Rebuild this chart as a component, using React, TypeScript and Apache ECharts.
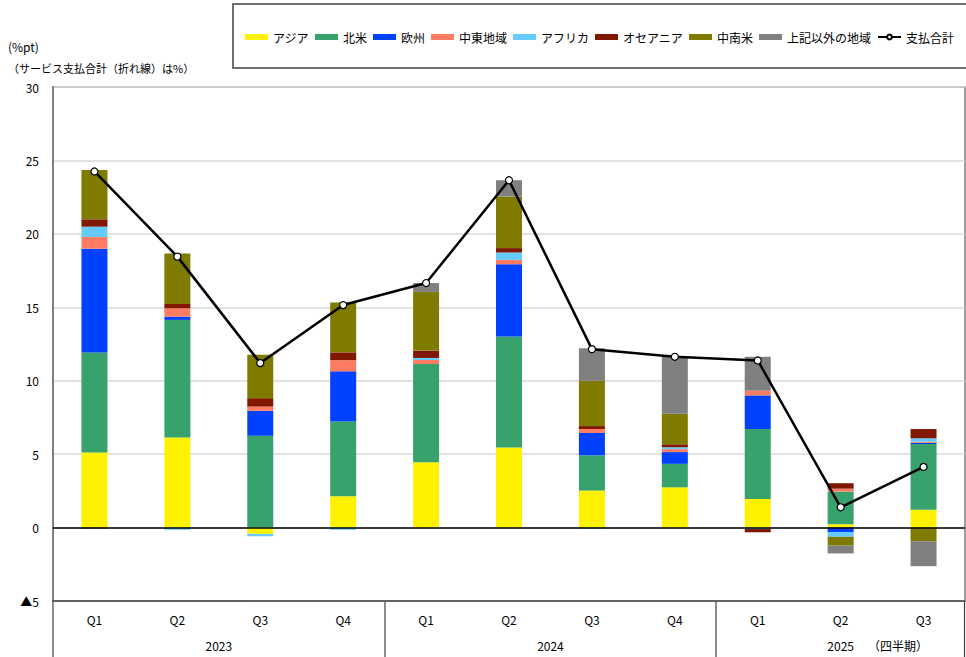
import React, { useEffect, useRef } from "react";
import * as echarts from "echarts";

const categories = ["Q1", "Q2", "Q3", "Q4", "Q1", "Q2", "Q3", "Q4", "Q1", "Q2", "Q3"];
const years = ["2023", "2024", "2025"];
const yearSpans = [4, 4, 3];

const asia = [5.12, 6.14, -0.43, 2.13, 4.44, 5.46, 2.52, 2.74, 1.95, 0.23, 1.22];
const northAmerica = [6.8, 8.0, 6.25, 5.1, 6.7, 7.55, 2.4, 1.6, 4.76, 2.22, 4.47];
const europe = [7.07, 0.22, 1.7, 3.41, 0, 4.92, 1.52, 0.8, 2.29, -0.3, 0.08];
const middleEast = [0.8, 0.57, 0.29, 0.76, 0.27, 0.3, 0.27, 0.2, 0.32, 0.2, 0.08];
const africa = [0.7, -0.15, -0.16, -0.15, 0.14, 0.5, -0.08, 0.13, -0.1, -0.33, 0.23];
const oceania = [0.5, 0.3, 0.57, 0.53, 0.5, 0.3, 0.2, 0.2, -0.22, 0.37, 0.63];
const latinAmerica = [3.35, 3.44, 2.95, 3.4, 4.0, 3.52, 3.08, 2.08, 0, -0.6, -0.93];
const others = [-0.08, 0, 0, 0, 0.6, 1.1, 2.22, 3.9, 2.31, -0.53, -1.7];
const total = [24.25, 18.45, 11.2, 15.15, 16.65, 23.65, 12.15, 11.63, 11.38, 1.38, 4.13];

const barSeriesDefs = [
  { name: "アジア", data: asia, color: "#FFF200" },
  { name: "北米", data: northAmerica, color: "#37A26C" },
  { name: "欧州", data: europe, color: "#0041FF" },
  { name: "中東地域", data: middleEast, color: "#FF7C63" },
  { name: "アフリカ", data: africa, color: "#66CCFF" },
  { name: "オセアニア", data: oceania, color: "#801800" },
  { name: "中南米", data: latinAmerica, color: "#7F7B00" },
  { name: "上記以外の地域", data: others, color: "#808080" },
];
const totalName = "支払合計";

const W = 966;
const H = 657;
const GL = 53;
const GR = 1;
const GT = 87;
const GB = 56;
const FONT = '"Noto Sans CJK JP", "Noto Sans", sans-serif';

export default function App() {
  const ref = useRef<HTMLDivElement>(null);
  useEffect(() => {
    if (!ref.current) return;
    const chart = echarts.init(ref.current, null, { renderer: "svg" });
    const plotW = W - GL - GR;
    const cw = plotW / categories.length;
    const axisY = H - GB;

    const graphics: any[] = [
      {
        type: "rect",
        shape: { x: 233, y: 4, width: 800, height: 64 },
        style: { fill: "none", stroke: "#404040", lineWidth: 1.5 },
        z: 0,
      },
      {
        type: "text",
        x: 8,
        y: 40,
        style: { text: "(%pt)", font: `12px ${FONT}`, fill: "#000" },
      },
      {
        type: "text",
        x: 8,
        y: 62,
        style: { text: "（サービス支払合計（折れ線）は%）", font: `11px ${FONT}`, fill: "#000" },
      },
    ];
    let idx = 0;
    const bounds = [0];
    yearSpans.forEach((s, i) => {
      const x0 = GL + idx * cw;
      const x1 = GL + (idx + s) * cw;
      graphics.push({
        type: "text",
        x: (x0 + x1) / 2,
        y: 645,
        style: {
          text: years[i],
          font: `12px ${FONT}`,
          fill: "#000",
          align: "center",
          verticalAlign: "middle",
        },
      });
      idx += s;
      bounds.push(idx);
    });
    bounds.forEach((b) => {
      const x = Math.round(GL + b * cw) - (b === categories.length ? 0.5 : 0);
      graphics.push({
        type: "line",
        shape: { x1: x, y1: axisY, x2: x, y2: H },
        style: { stroke: "#404040", lineWidth: 1.2 },
      });
    });
    graphics.push({
      type: "text",
      x: 868,
      y: 645,
      style: { text: "（四半期）", font: `12px ${FONT}`, fill: "#000", verticalAlign: "middle" },
    });

    const series: any[] = barSeriesDefs.map((d) => ({
      name: d.name,
      type: "bar",
      stack: "total",
      barWidth: 26,
      data: d.data,
      itemStyle: { color: d.color },
    }));
    series.push({
      name: totalName,
      type: "line",
      data: total,
      symbol: "circle",
      symbolSize: 7,
      z: 5,
      lineStyle: { color: "#000", width: 2.5 },
      itemStyle: { color: "#fff", borderColor: "#000", borderWidth: 1.2 },
      markLine: {
        silent: true,
        symbol: "none",
        label: { show: false },
        lineStyle: { color: "#000", width: 1.5, type: "solid" },
        data: [{ yAxis: 0 }],
        z: 3,
      },
    });

    chart.setOption({
      animation: false,
      textStyle: { fontFamily: FONT },
      grid: {
        left: GL,
        right: GR,
        top: GT,
        bottom: GB,
        show: true,
        borderColor: "#7f7f7f",
        borderWidth: 1.5,
        containLabel: false,
      },
      legend: {
        left: 240,
        top: 26,
        width: 1200,
        padding: 5,
        itemWidth: 23,
        itemHeight: 6,
        itemGap: 6,
        textStyle: { color: "#000", fontSize: 12, fontFamily: FONT },
        data: [
          ...barSeriesDefs.map((d) => ({ name: d.name, icon: "rect" })),
          { name: totalName },
        ],
      },
      xAxis: {
        type: "category",
        data: categories,
        axisLine: { show: true, onZero: false, lineStyle: { color: "#404040", width: 1.5 } },
        axisTick: { show: false },
        axisLabel: { margin: 12, fontSize: 12, color: "#000", fontFamily: FONT },
        splitLine: { show: false },
      },
      yAxis: {
        type: "value",
        min: -5,
        max: 30,
        interval: 5,
        axisLine: { show: true, lineStyle: { color: "#808080", width: 2 } },
        axisTick: { show: false },
        axisLabel: {
          margin: 14,
          fontSize: 12,
          color: "#000",
          fontFamily: FONT,
          formatter: (v: number) => (v < 0 ? "▲" + -v : String(v)),
        },
        splitLine: { show: true, lineStyle: { color: "#d9d9d9", width: 1.5 } },
      },
      graphic: graphics,
      series,
    });
    return () => chart.dispose();
  }, []);
  return (
    <div
      ref={ref}
      style={{ position: "fixed", left: 0, top: 0, width: W, height: H, background: "#fff" }}
    />
  );
}
